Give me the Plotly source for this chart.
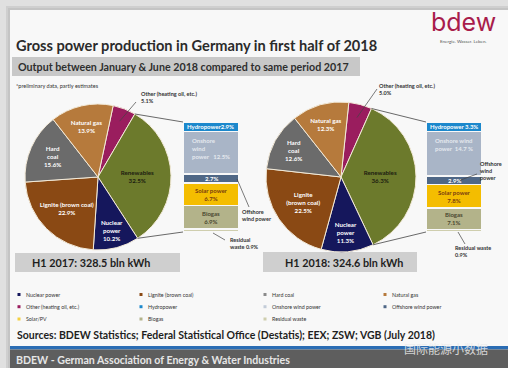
import math
import plotly.graph_objects as go

W, H = 508, 368
FONT = "Lato"

# ---- data -------------------------------------------------------------
sources = ["Other (heating oil, etc.)", "Renewables", "Nuclear power",
           "Lignite (brown coal)", "Hard coal", "Natural gas"]
share_2017 = [5.1, 32.5, 10.2, 22.9, 15.6, 13.9]
share_2018 = [5.0, 36.3, 11.3, 22.5, 12.6, 12.3]
slice_names_2017 = ["", "Renewables", "Nuclear<br>power", "Lignite (brown coal)",
                    "Hard<br>coal", "Natural gas"]
slice_names_2018 = ["", "Renewables", "Nuclear<br>power", "Lignite<br>(brown coal)",
                    "Hard<br>coal", "Natural gas"]

renew_parts = ["Residual waste", "Biogas", "Solar power", "Offshore wind power",
               "Onshore wind power", "Hydropower"]
renew_2017 = [0.9, 6.9, 6.7, 2.7, 12.5, 2.9]
renew_2018 = [0.9, 7.1, 7.8, 2.9, 14.7, 3.3]

totals = ["H1 2017: 328.5 bln kWh", "H1 2018: 324.6 bln kWh"]

legend_items = ["Nuclear power", "Lignite (brown coal)", "Hard coal", "Natural gas",
                "Other (heating oil, etc.)", "Hydropower", "Onshore wind power",
                "Offshore wind power", "Solar/PV", "Biogas", "Residual waste"]

# ---- styles -----------------------------------------------------------
pie_colors = {"Other (heating oil, etc.)": "#9a1d5e", "Renewables": "#6c7a2c",
              "Nuclear power": "#15175c", "Lignite (brown coal)": "#8a4914",
              "Hard coal": "#6b6b6b", "Natural gas": "#b67a3c"}
pie_text_colors = {"Renewables": "#1c1c10"}
bar_colors = {"Residual waste": "#cfceae", "Biogas": "#b3b38a", "Solar power": "#f4bd00",
              "Offshore wind power": "#4f6786", "Onshore wind power": "#a9b5c7",
              "Hydropower": "#1c88cc"}
legend_colors = {"Nuclear power": "#15175c", "Lignite (brown coal)": "#8a4914",
                 "Hard coal": "#8a8a8a", "Natural gas": "#b67a3c",
                 "Other (heating oil, etc.)": "#9a1d5e", "Hydropower": "#1c88cc",
                 "Onshore wind power": "#c3ccd8", "Offshore wind power": "#4f6786",
                 "Solar/PV": "#f4d040", "Biogas": "#b3b38a", "Residual waste": "#cfceae"}


def px(x):
    return x / W


def py(y):
    return 1 - y / H


fig = go.Figure()
shapes, annots = [], []


def rect(x0, y0, x1, y1, color, layer="below"):
    shapes.append(dict(type="rect", xref="paper", yref="paper", x0=px(x0), x1=px(x1),
                       y0=py(y1), y1=py(y0), fillcolor=color, line_width=0, layer=layer))


def seg(x0, y0, x1, y1, color="#555555", width=0.8):
    shapes.append(dict(type="line", xref="paper", yref="paper", x0=px(x0), y0=py(y0),
                       x1=px(x1), y1=py(y1), line=dict(color=color, width=width), layer="above"))


def text(x, y, s, size=6, color="#333333", xanchor="left", yanchor="middle",
         bold=False, align="left", family=FONT, ref=("paper", "paper")):
    if ref == ("paper", "paper"):
        x, y = px(x), py(y)
    annots.append(dict(x=x, y=y, xref=ref[0], yref=ref[1], text=s, showarrow=False,
                       xanchor=xanchor, yanchor=yanchor, align=align,
                       font=dict(size=size, color=color, family=family,
                                 weight="bold" if bold else "normal")))


# ---- slide background -------------------------------------------------
rect(6, 6, W, H, "#cfcfcf")
rect(8, 8, W, H, "#c4c4c4")
rect(10, 10, W, H, "#f8f8f8")

# title block
text(14, 45, "Gross power production in Germany in first half of 2018", size=14.6,
     color="#2b2b2b", bold=True)
rect(12, 57, 360, 76, "#c8c8c8")
text(16, 66.5, "Output between January & June 2018 compared to same period 2017",
     size=10.7, color="#2e2e2e", bold=True)
text(14, 86, "*preliminary data, partly estimates", size=5.5, color="#333333")

# logo
text(463, 22.5, "bdew", size=25, color="#a81c4b", xanchor="center", family="Inter")
text(463, 41, "Energie. Wasser. Leben.", size=4.5, color="#555555", xanchor="center")

# ---- pies -------------------------------------------------------------
pies = [
    dict(values=share_2017, names=slice_names_2017, rot=12, dom=(25, 104, 171, 250),
         bar=renew_2017, bar_dom=(183, 122, 239, 232), axis="2"),
    dict(values=share_2018, names=slice_names_2018, rot=6, dom=(266, 102, 416, 252),
         bar=renew_2018, bar_dom=(426, 122, 482, 232), axis="3"),
]

for p in pies:
    x0, y0, x1, y1 = p["dom"]
    fig.add_trace(go.Pie(
        labels=sources, values=p["values"], customdata=p["names"], sort=False,
        direction="clockwise", rotation=p["rot"],
        marker=dict(colors=[pie_colors[s] for s in sources],
                    line=dict(color="#f3ead8", width=1)),
        texttemplate=["" if n == "" else "<b>%{customdata}<br>%{value:.1f}%</b>"
                      for n in p["names"]],
        textposition="inside", insidetextorientation="horizontal",
        insidetextfont=dict(size=6.2, family=FONT,
                            color=[pie_text_colors.get(s, "#ffffff") for s in sources]),
        domain=dict(x=[px(x0), px(x1)], y=[py(y1), py(y0)]),
        showlegend=False, hoverinfo="label+value"))

    # pie geometry for the connector lines to the renewables column
    cx, cy, r = (x0 + x1) / 2, (y0 + y1) / 2, min(x1 - x0, y1 - y0) / 2
    tot = sum(p["values"])
    a_start = p["rot"] + 360 * p["values"][0] / tot
    a_end = a_start + 360 * p["values"][1] / tot

    def rim(a, k=1.0):
        return cx + k * r * math.sin(math.radians(a)), cy - k * r * math.cos(math.radians(a))

    bx0, by0, bx1, by1 = p["bar_dom"]
    sx, sy = rim(a_start)
    ex, ey = rim(a_end)
    seg(sx, sy, bx0, by0, "#444444", 0.8)
    seg(ex, ey, bx0, by1, "#444444", 0.8)
    p["other_mid"] = rim(p["rot"] + 180 * p["values"][0] / tot, 0.82)

    # renewables breakdown column
    ax = p["axis"]
    for name, v in zip(renew_parts, p["bar"]):
        fig.add_trace(go.Bar(x=[0], y=[v], width=1, xaxis="x" + ax, yaxis="y" + ax,
                             marker=dict(color=bar_colors[name],
                                         line=dict(color="#f8f8f8", width=1.2)),
                             showlegend=False, name=name, hoverinfo="name+y"))
    fig.layout["xaxis" + ax] = dict(domain=[px(bx0), px(bx1)], range=[-0.5, 0.5],
                                    visible=False, fixedrange=True,
                                    anchor="y" + ax)
    fig.layout["yaxis" + ax] = dict(domain=[py(by1), py(by0)], range=[0, sum(p["bar"])],
                                    visible=False, fixedrange=True,
                                    anchor="x" + ax)

    # in-column labels
    cum, mids, tops = 0, {}, {}
    for name, v in zip(renew_parts, p["bar"]):
        mids[name] = cum + v / 2
        cum += v
        tops[name] = cum
    v = dict(zip(renew_parts, p["bar"]))
    ref = ("x" + ax, "y" + ax)
    if ax == "2":
        hydro = f"Hydropower{v['Hydropower']:.1f}%"
        onshore = f"Onshore<br>wind<br>power   {v['Onshore wind power']:.1f}%"
    else:
        hydro = f"Hydropower {v['Hydropower']:.1f}%"
        onshore = f"Onshore wind<br>power  {v['Onshore wind power']:.1f} %"
    text(-0.47, mids["Hydropower"], hydro, size=6, color="#ffffff", bold=True, ref=ref)
    text(-0.38, tops["Onshore wind power"] - 0.9, onshore, size=6, color="#e4e8ee",
         bold=True, yanchor="top", ref=ref)
    text(0, mids["Offshore wind power"], f"{v['Offshore wind power']:.1f}%", size=6,
         color="#ffffff", bold=True, xanchor="center", ref=ref)
    text(0, mids["Solar power"], f"Solar power<br>{v['Solar power']:.1f}%", size=6,
         color="#7a3e10", bold=True, xanchor="center", align="center", ref=ref)
    text(0, mids["Biogas"], f"Biogas<br>{v['Biogas']:.1f}%", size=6,
         color="#4a4830", bold=True, xanchor="center", align="center", ref=ref)

# ---- outside labels with leader lines ---------------------------------
o17, o18 = pies[0]["other_mid"], pies[1]["other_mid"]
text(139, 97, f"Other (heating oil, etc.)<br>{share_2017[0]:.1f}%", size=5.5,
     color="#333333", bold=True)
seg(136, 102, o17[0], o17[1], "#444444", 0.7)
text(377, 90, f"Other (heating oil, etc.)<br>{share_2018[0]:.1f}%", size=5.5,
     color="#333333", bold=True)
seg(377, 89, o18[0], o18[1], "#444444", 0.7)

text(240, 215, "Offshore<br>wind power", size=5.5, color="#333333", bold=True)
seg(237, 179, 249, 207, "#444444", 0.7)
text(228, 243, f"Residual<br>waste {renew_2017[0]:.1f}%", size=5.5, color="#333333",
     bold=True)
seg(213, 233, 225, 240, "#444444", 0.7)

text(478, 170.5, "Offshore<br>wind<br>power", size=5.5, color="#333333", bold=True)
seg(458, 181, 477, 174, "#444444", 0.7)
text(453, 251, f"Residual waste<br>{renew_2018[0]:.1f}%", size=5.5, color="#333333",
     bold=True)
seg(458, 232, 465, 244, "#444444", 0.7)

# ---- totals boxes -----------------------------------------------------
rect(15, 253, 180, 272, "#cfcfcf")
text(91, 262.5, totals[0], size=10.8, color="#1e1e1e", bold=True, xanchor="center")
rect(263, 252, 417, 272, "#cfcfcf")
text(344, 262, totals[1], size=10.8, color="#1e1e1e", bold=True, xanchor="center")

# ---- legend grid ------------------------------------------------------
col_x = [19, 141, 265, 385]
row_y = [294.5, 306.7, 319]
for i, name in enumerate(legend_items):
    cxl, ryl = col_x[i % 4], row_y[i // 4]
    rect(cxl - 1.5, ryl - 1.5, cxl + 1.5, ryl + 1.5, legend_colors[name], layer="above")
    text(cxl + 5, ryl, name, size=5.3, color="#333333")

# ---- sources and footer -----------------------------------------------
text(15, 335, "Sources: BDEW Statistics; Federal Statistical Office (Destatis); EEX; ZSW; VGB (July 2018)",
     size=10.5, color="#1e1e1e", bold=True)
rect(10, 346, W, 349.5, "#2b6db4")
rect(10, 349.5, W, H, "#5e5e5e")
text(14, 359.5, "BDEW - German Association of Energy & Water Industries", size=10.6,
     color="#e6e6e6", bold=True)
text(490, 348, "国际能源小数据", size=12, color="rgba(235,235,235,0.85)",
     xanchor="right", family="Noto Sans CJK SC")

fig.update_layout(width=W, height=H, margin=dict(l=0, r=0, t=0, b=0),
                  paper_bgcolor="#e0e0e0", plot_bgcolor="rgba(0,0,0,0)",
                  barmode="stack", shapes=shapes, annotations=annots,
                  font=dict(family=FONT))

fig.write_html("out.html")
